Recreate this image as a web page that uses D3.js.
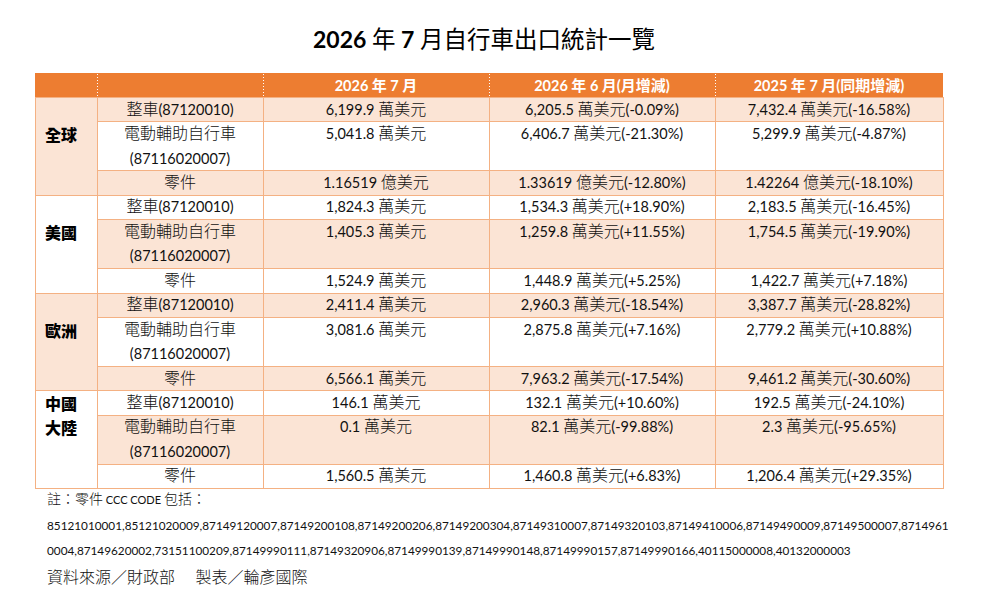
<!DOCTYPE html>
<html>
<head>
<meta charset="utf-8">
<script src="https://cdn.jsdelivr.net/npm/d3@7"></script>
<style>
    body { margin: 0; background: #fff; }
    svg { display: block; }
</style>
</head>
<body>
<svg id="chart" width="983" height="609"></svg>
<script>
/**
 * Data.
 */
const title = '2026 年 7 月自行車出口統計一覽';
const headers = ['', '', '2026 年 7 月', '2026 年 6 月(月增減)', '2025 年 7 月(同期增減)'];
const regions = [['全球'], ['美國'], ['歐洲'], ['中國', '大陸']];
const items = [['整車(87120010)'], ['電動輔助自行車', '(87116020007)'], ['零件']];
const units = ['萬', '萬', '億', '萬', '萬', '萬', '萬', '萬', '萬', '萬', '萬', '萬'];
const jul2026 = [6199.9, 5041.8, 1.16519, 1824.3, 1405.3, 1524.9, 2411.4, 3081.6, 6566.1, 146.1, 0.1, 1560.5];
const jun2026 = [6205.5, 6406.7, 1.33619, 1534.3, 1259.8, 1448.9, 2960.3, 2875.8, 7963.2, 132.1, 82.1, 1460.8];
const jun2026Change = [-0.09, -21.30, -12.80, 18.90, 11.55, 5.25, -18.54, 7.16, -17.54, 10.60, -99.88, 6.83];
const jul2025 = [7432.4, 5299.9, 1.42264, 2183.5, 1754.5, 1422.7, 3387.7, 2779.2, 9461.2, 192.5, 2.3, 1206.4];
const jul2025Change = [-16.58, -4.87, -18.10, -16.45, -19.90, 7.18, -28.82, 10.88, -30.60, -24.10, -95.65, 29.35];
const noteLabel = '註：零件 CCC CODE 包括：';
const partCodes = ['85121010001', '85121020009', '87149120007', '87149200108', '87149200206', '87149200304',
    '87149310007', '87149320103', '87149410006', '87149490009', '87149500007', '87149610004',
    '87149620002', '73151100209', '87149990111', '87149320906', '87149990139', '87149990148',
    '87149990157', '87149990166', '40115000008', '40132000003'];
const source = '資料來源／財政部　 製表／輪彥國際';

/**
 * Visual configs.
 */
const colEdges = [35, 97, 263, 489, 715, 943],
    headerTop = 73,
    bodyTop = 97,
    bodyBottom = 488,
    codeWrapAt = 139; // characters on the first line of codes

const orange = '#ed7d31',
    peach = '#fbe4d5',
    border = '#f4b183',
    ink = '#111';

const latinFont = 'Lato, "Noto Sans", sans-serif',
    cjkFont = '"Noto Sans CJK TC", "Noto Sans CJK SC", sans-serif';

const locale = d3.formatLocale({ decimal: '.', thousands: ',', grouping: [3], currency: ['', ''], minus: '-' }),
    fmtWan = locale.format(',.1f'),
    fmtYi = locale.format('.5f'),
    fmtPct = locale.format('+.2f');

const amount = (v, u) => (u === '億' ? fmtYi(v) : fmtWan(v)) + ' ' + u + '美元';
const withChange = (v, u, c) => amount(v, u) + '(' + fmtPct(c) + '%)';

/**
 * Build rows.
 */
const rows = [];
let slot = 0;
regions.forEach((r, gi) => {
    items.forEach((it, ii) => {
        const i = gi * items.length + ii;
        rows.push({
            index: i,
            group: gi,
            slot: slot,
            span: it.length,
            label: it,
            cells: [
                amount(jul2026[i], units[i]),
                withChange(jun2026[i], units[i], jun2026Change[i]),
                withChange(jul2025[i], units[i], jul2025Change[i])
            ]
        });
        slot += it.length;
    });
});
const groups = regions.map((r, gi) => {
    const g = rows.filter(d => d.group === gi);
    return { label: r, index: gi, slot: g[0].slot, span: d3.sum(g, d => d.span) };
});

const y = d3.scaleLinear().domain([0, slot]).range([bodyTop, bodyBottom]);

/**
 * Mixed-script text: Latin runs and CJK runs get their own font.
 */
const cjkTest = /[\u2e80-\u9fff\u3000-\u303f\uff00-\uffef]/;
const runSplit = /[\u2e80-\u9fff\u3000-\u303f\uff00-\uffef]+|[^\u2e80-\u9fff\u3000-\u303f\uff00-\uffef]+/g;

function richText(sel, str, latinSize, cjkSize, latinWeight, cjkWeight) {
    (str.match(runSplit) || []).forEach(run => {
        const isCjk = cjkTest.test(run);
        sel.append('tspan')
            .attr('font-family', isCjk ? cjkFont : latinFont)
            .attr('font-size', isCjk ? cjkSize : latinSize)
            .attr('font-weight', isCjk ? cjkWeight : latinWeight)
            .text(run);
    });
    return sel;
}

const svg = d3.select('#chart');

// Title
richText(svg.append('text')
    .attr('x', 484).attr('y', 48)
    .attr('text-anchor', 'middle').attr('fill', '#000'),
title, 23, 23.5, 700, 400);

// Header
const header = svg.append('g').attr('class', 'header');
header.append('rect')
    .attr('x', colEdges[0]).attr('y', headerTop)
    .attr('width', colEdges[colEdges.length - 1] - colEdges[0])
    .attr('height', bodyTop - headerTop)
    .attr('fill', orange);
header.selectAll('line.sep').data(colEdges.slice(1, -1)).enter().append('line')
    .attr('class', 'sep')
    .attr('x1', d => d + 0.5).attr('x2', d => d + 0.5)
    .attr('y1', headerTop + 1).attr('y2', bodyTop)
    .attr('stroke', '#fff').attr('stroke-width', 1).attr('stroke-dasharray', '1,2');
header.selectAll('text').data(headers).enter().append('text')
    .attr('x', (d, i) => (colEdges[i] + colEdges[i + 1]) / 2)
    .attr('y', (headerTop + bodyTop) / 2 + 5.5)
    .attr('text-anchor', 'middle').attr('fill', '#fff')
    .each(function(d) { richText(d3.select(this), d, 14.5, 15, 700, 700); });

// Body rows
const body = svg.append('g').attr('class', 'body');
const rowG = body.selectAll('g.row').data(rows).enter().append('g').attr('class', 'row');

rowG.selectAll('rect').data(d => d3.range(1, 5).map(c => ({ row: d, col: c }))).enter().append('rect')
    .attr('x', d => colEdges[d.col] + 0.5)
    .attr('y', d => Math.round(y(d.row.slot)) + 0.5)
    .attr('width', d => colEdges[d.col + 1] - colEdges[d.col])
    .attr('height', d => Math.round(y(d.row.slot + d.row.span)) - Math.round(y(d.row.slot)))
    .attr('fill', d => d.row.index % 2 === 0 ? peach : '#fff')
    .attr('stroke', border).attr('stroke-width', 1);

// Item labels and values
rowG.each(function(d) {
    const g = d3.select(this);
    d.label.forEach((line, li) => {
        richText(g.append('text')
            .attr('x', (colEdges[1] + colEdges[2]) / 2)
            .attr('y', y(d.slot + li + 0.5) + 5.5)
            .attr('text-anchor', 'middle').attr('fill', ink),
        line, 14.5, 16, 400, 300);
    });
    d.cells.forEach((c, ci) => {
        richText(g.append('text')
            .attr('x', (colEdges[ci + 2] + colEdges[ci + 3]) / 2)
            .attr('y', y(d.slot + 0.5) + 5.5)
            .attr('text-anchor', 'middle').attr('fill', ink),
        c, 14.5, 16, 400, 300);
    });
});

// Region cells (merged)
const groupG = body.selectAll('g.group').data(groups).enter().append('g').attr('class', 'group');
groupG.append('rect')
    .attr('x', colEdges[0] + 0.5)
    .attr('y', d => Math.round(y(d.slot)) + 0.5)
    .attr('width', colEdges[1] - colEdges[0])
    .attr('height', d => Math.round(y(d.slot + d.span)) - Math.round(y(d.slot)))
    .attr('fill', d => d.index % 2 === 0 ? peach : '#fff')
    .attr('stroke', border).attr('stroke-width', 1);
groupG.each(function(d) {
    const g = d3.select(this), n = d.label.length;
    d.label.forEach((line, li) => {
        richText(g.append('text')
            .attr('x', colEdges[0] + 10)
            .attr('y', y(d.slot + 1.58 - (n - 1 - li)) + 5.5)
            .attr('fill', '#000'),
        line, 15, 16, 700, 900);
    });
});

// Footnotes
const notes = svg.append('g').attr('class', 'notes');
richText(notes.append('text').attr('x', 47).attr('y', 504).attr('fill', ink),
    noteLabel, 11, 14, 400, 300);

const codeText = partCodes.join(',');
[codeText.slice(0, codeWrapAt), codeText.slice(codeWrapAt)].forEach((line, li) => {
    notes.append('text')
        .attr('x', 47).attr('y', 529.5 + li * 25)
        .attr('font-family', latinFont).attr('font-size', 11.75)
        .attr('fill', ink)
        .text(line);
});

richText(notes.append('text').attr('x', 47).attr('y', 583).attr('fill', ink).style('white-space', 'pre'),
    source, 16, 16, 300, 300);
</script>
</body>
</html>
